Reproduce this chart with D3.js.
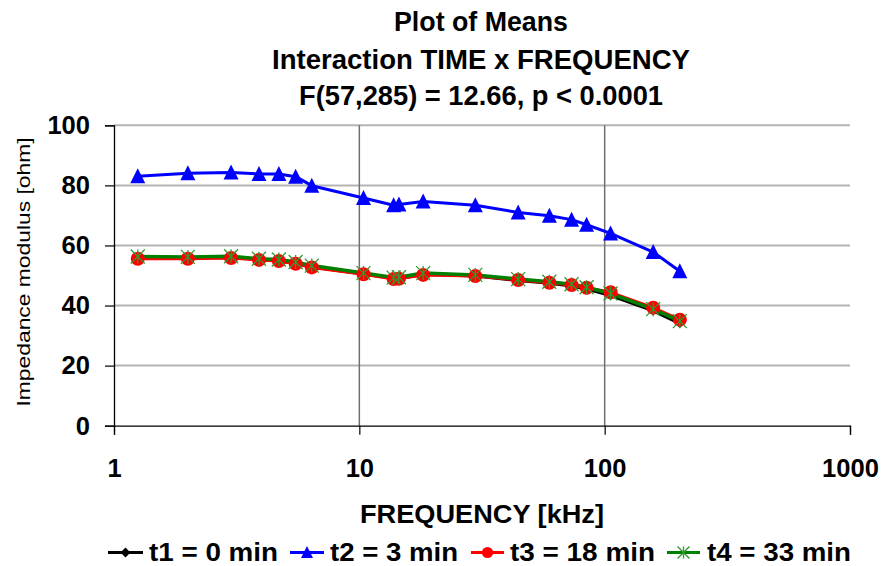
<!DOCTYPE html>
<html>
<head>
<meta charset="utf-8">
<script src="https://cdn.jsdelivr.net/npm/d3@7"></script>
<style>
  html, body { margin: 0; padding: 0; background: #fff; }
  svg { display: block; font-family: "Liberation Sans", Arial, sans-serif; }
</style>
</head>
<body>
<svg id="chart" width="881" height="566"></svg>
<script>
// ---------- data ----------
const titleLines = ["Plot of Means", "Interaction TIME x FREQUENCY", "F(57,285) = 12.66, p < 0.0001"];
const xTitle = "FREQUENCY [kHz]";
const yTitle = "Impedance modulus [ohm]";
const xTicks = [1, 10, 100, 1000];
const yTicks = [0, 20, 40, 60, 80, 100];
const frequencies = [1.25, 2, 3, 3.9, 4.7, 5.5, 6.4, 10.4, 13.8, 14.5, 18.2, 29.7, 44.4, 59.5, 73.3, 84.4, 105.7, 157.7, 202.5];
const seriesNames = ["t1 = 0 min", "t2 = 3 min", "t3 = 18 min", "t4 = 33 min"];
const t1 = [55.8, 55.8, 56.0, 55.3, 54.9, 54.0, 52.8, 50.5, 49.0, 49.0, 50.3, 49.8, 48.3, 47.4, 46.5, 45.5, 43.3, 38.2, 34.0];
const t2 = [83.0, 84.0, 84.3, 83.8, 83.8, 82.9, 79.9, 75.8, 73.4, 73.6, 74.6, 73.4, 71.0, 69.9, 68.6, 66.9, 64.0, 57.8, 51.4];
const t3 = [55.6, 55.6, 55.8, 55.2, 54.8, 53.9, 52.7, 50.4, 48.8, 48.9, 50.2, 49.8, 48.5, 47.6, 46.8, 45.9, 44.4, 39.3, 35.3];
const t4 = [56.3, 56.2, 56.4, 55.6, 55.3, 54.5, 53.3, 50.8, 49.3, 49.4, 50.8, 50.2, 48.8, 47.9, 47.1, 46.1, 44.0, 38.8, 34.8];

// ---------- layout ----------
const svg = d3.select("#chart");
const x = d3.scaleLog().domain([1, 1000]).range([114, 850]);
const y = d3.scaleLinear().domain([0, 100]).range([425.7, 125.3]);

const series = [
  { name: seriesNames[0], values: t1, color: "#000000", marker: "diamond", lw: 3 },
  { name: seriesNames[1], values: t2, color: "#0000ff", marker: "triangle", lw: 3 },
  { name: seriesNames[2], values: t3, color: "#ff0000", marker: "circle", lw: 3 },
  { name: seriesNames[3], values: t4, color: "#008000", marker: "star", lw: 3.5 }
];

// title
const titleBase = [31, 68.5, 105];
const titleW = [174, 418, 364];
titleLines.forEach((t, i) => {
  svg.append("text").attr("x", 481).attr("y", titleBase[i])
    .attr("text-anchor", "middle").attr("font-weight", "bold").attr("font-size", 27)
    .attr("textLength", titleW[i]).attr("lengthAdjust", "spacingAndGlyphs")
    .text(t);
});

// horizontal gridlines
svg.append("g").selectAll("line").data(yTicks.filter(d => d > 0)).join("line")
  .attr("x1", 114).attr("x2", 850).attr("y1", d => y(d)).attr("y2", d => y(d))
  .attr("stroke", "#b4b4b4").attr("stroke-width", 2);
// vertical gridlines
svg.append("g").selectAll("line").data([10, 100]).join("line")
  .attr("x1", d => x(d)).attr("x2", d => x(d)).attr("y1", y(100)).attr("y2", y(0))
  .attr("stroke", "#707070").attr("stroke-width", 1.5);

// axes
const digitW = 14.2;
const xAxis = d3.axisBottom(x).tickValues(xTicks).tickFormat(d3.format("d")).tickSize(9).tickPadding(24);
const gx = svg.append("g").attr("transform", `translate(0,${y(0)})`).call(xAxis);
gx.select(".domain").attr("stroke", "#000").attr("stroke-width", 1.3);
gx.selectAll(".tick line").attr("stroke", "#000").attr("stroke-width", 1.2);
gx.selectAll(".tick text").attr("font-size", 26).attr("font-weight", "bold").attr("fill", "#000")
  .attr("font-family", "Liberation Sans, Arial, sans-serif")
  .attr("textLength", d => String(d).length * digitW).attr("lengthAdjust", "spacingAndGlyphs");

const yAxis = d3.axisLeft(y).tickValues(yTicks).tickSize(9).tickPadding(15);
const gy = svg.append("g").attr("transform", `translate(114,0)`).call(yAxis);
gy.select(".domain").attr("stroke", "#000").attr("stroke-width", 1.3);
gy.selectAll(".tick line").attr("stroke", "#000").attr("stroke-width", 1.2);
gy.selectAll(".tick text").attr("font-size", 26).attr("font-weight", "bold").attr("fill", "#000")
  .attr("font-family", "Liberation Sans, Arial, sans-serif")
  .attr("textLength", d => String(d).length * digitW).attr("lengthAdjust", "spacingAndGlyphs");

// axis titles
svg.append("text").attr("x", 482).attr("y", 523).attr("text-anchor", "middle")
  .attr("font-weight", "bold").attr("font-size", 26)
  .attr("textLength", 244).attr("lengthAdjust", "spacingAndGlyphs").text(xTitle);
svg.append("text").attr("transform", "translate(30,272) rotate(-90)").attr("text-anchor", "middle")
  .attr("font-size", 19).attr("textLength", 269).attr("lengthAdjust", "spacingAndGlyphs").text(yTitle);

// markers
function drawMarker(g, type, cx, cy, color, scale) {
  scale = scale || 1;
  if (type === "triangle") {
    const w = 15 * scale, h = 14 * scale;
    g.append("path").attr("d", `M${cx},${cy - h / 2 - 1}L${cx + w / 2},${cy + h / 2}L${cx - w / 2},${cy + h / 2}Z`)
      .attr("fill", color);
  } else if (type === "circle") {
    g.append("circle").attr("cx", cx).attr("cy", cy).attr("r", 7 * scale).attr("fill", color);
  } else if (type === "diamond") {
    const r = 4.5 * scale;
    g.append("path").attr("d", `M${cx},${cy - r}L${cx + r},${cy}L${cx},${cy + r}L${cx - r},${cy}Z`).attr("fill", color);
  } else if (type === "star") {
    const r = 7 * scale;
    g.append("path").attr("d",
      `M${cx - r},${cy - r}L${cx + r},${cy + r}M${cx - r},${cy + r}L${cx + r},${cy - r}M${cx},${cy - r}L${cx},${cy + r}`)
      .attr("stroke", "#2e9a2e").attr("stroke-width", 1.3).attr("fill", "none");
  }
}

const line = d3.line().x(d => x(d[0])).y(d => y(d[1]));
const linesG = svg.append("g");
series.forEach(s => {
  linesG.append("path").datum(frequencies.map((f, i) => [f, s.values[i]]))
    .attr("d", line).attr("fill", "none").attr("stroke", s.color).attr("stroke-width", s.lw)
    .attr("stroke-linejoin", "round");
});
const markG = svg.append("g");
series.forEach(s => {
  frequencies.forEach((f, i) => drawMarker(markG, s.marker, x(f), y(s.values[i]), s.color));
});

// legend
const legend = [
  { x0: 108, x1: 143, tx: 149, w: 129, ms: 1.1 },
  { x0: 290, x1: 324, tx: 330, w: 128, ms: 0.8 },
  { x0: 471, x1: 504, tx: 510, w: 145, ms: 0.8 },
  { x0: 667, x1: 700, tx: 707, w: 144, ms: 0.85 }
];
const legG = svg.append("g");
series.forEach((s, i) => {
  const L = legend[i], ly = 552.5;
  legG.append("line").attr("x1", L.x0).attr("x2", L.x1).attr("y1", ly).attr("y2", ly)
    .attr("stroke", s.color).attr("stroke-width", 3);
  drawMarker(legG, s.marker, (L.x0 + L.x1) / 2, ly, s.color, L.ms);
  legG.append("text").attr("x", L.tx).attr("y", 561).attr("font-weight", "bold").attr("font-size", 25)
    .attr("textLength", L.w).attr("lengthAdjust", "spacingAndGlyphs").text(s.name);
});
</script>
</body>
</html>
